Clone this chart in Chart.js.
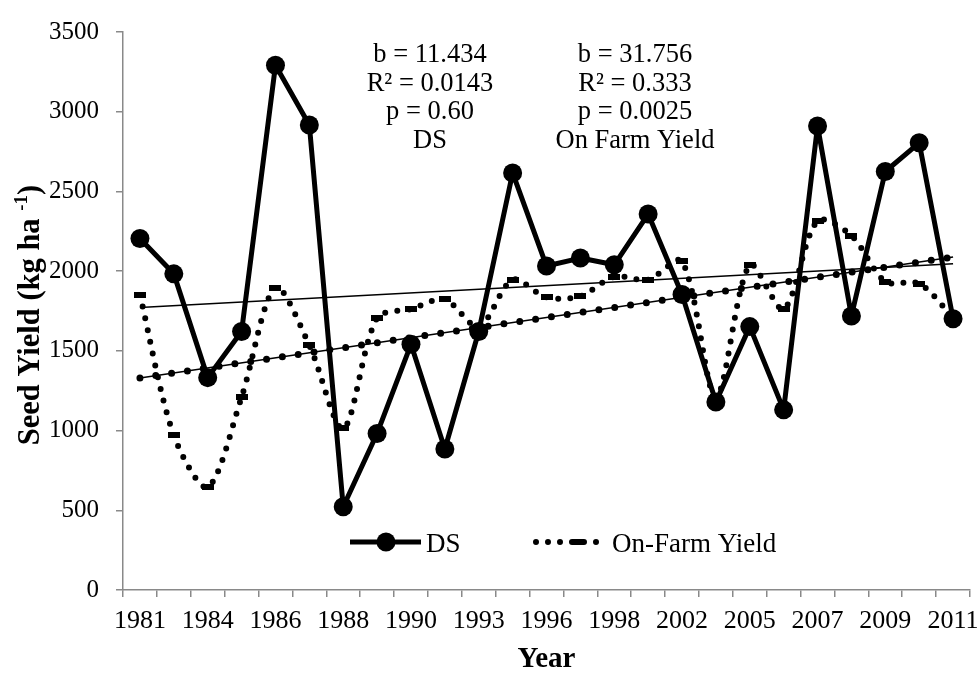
<!DOCTYPE html>
<html>
<head>
<meta charset="utf-8">
<script src="https://cdn.jsdelivr.net/npm/chart.js@4.4.0/dist/chart.umd.min.js"></script>
<style>
  html, body { margin: 0; padding: 0; background: #fff; }
  #wrap { width: 980px; height: 677px; }
</style>
</head>
<body>
<div id="wrap"><canvas id="chart"></canvas></div>
<script>
// Years on the axis (only every other year is labelled in the original)
const years = ['1981', '', '1984', '', '1986', '', '1988', '', '1990', '', '1993', '', '1996', '',
               '1998', '', '2002', '', '2005', '', '2007', '', '2009', '', '2011'];

// Seed yield, kg/ha
const dsYield = [2205, 1983, 1332, 1621, 3291, 2917, 522, 982, 1541, 884, 1621, 2616, 2032,
                 2082, 2040, 2358, 1854, 1179, 1652, 1130, 2910, 1719, 2625, 2805, 1701];
const onFarmYield = [1850, 970, 645, 1210, 1897, 1535, 1013, 1707, 1762, 1823, 1650, 1946, 1836,
                     1842, 1965, 1946, 2063, 1210, 2039, 1762, 2316, 2223, 1934, 1922, 1710];

// Linear trend values at first and last year
const dsTrendEnds = [1772, 2046];
const farmTrendEnds = [1330, 2088];

// Regression notes
const dsStats = ['b = 11.434', 'R\u00B2 = 0.0143', 'p = 0.60', 'DS'];
const farmStats = ['b = 31.756', 'R\u00B2 = 0.333', 'p = 0.0025', 'On Farm Yield'];

const FONT = "'Liberation Serif', 'Times New Roman', serif";
const AXIS_GREY = '#898989';

const endsOnly = e => years.map((_, i) => i === 0 ? e[0] : (i === years.length - 1 ? e[1] : null));

// little horizontal dash used as the on-farm marker
const dash = document.createElement('canvas');
dash.width = 12; dash.height = 6;
const dctx = dash.getContext('2d');
dctx.fillStyle = '#000';
dctx.fillRect(0, 0, 12, 6);

// Text drawn on top: regression notes, legend, y title
const extras = {
    id: 'extras',
    afterDraw(chart) {
        const ctx = chart.ctx;
        const area = chart.chartArea;
        ctx.save();
        ctx.fillStyle = '#000';
        ctx.textBaseline = 'alphabetic';

        // regression notes
        ctx.font = '26.5px ' + FONT;
        ctx.textAlign = 'center';
        [[dsStats, 430], [farmStats, 635]].forEach(([lines, cx]) => {
            lines.forEach((t, i) => ctx.fillText(t, cx, 62 + i * 28.7));
        });

        // legend
        const ly = area.bottom - 48;
        ctx.strokeStyle = '#000';
        ctx.lineWidth = 5;
        ctx.beginPath(); ctx.moveTo(350, ly); ctx.lineTo(421, ly); ctx.stroke();
        ctx.beginPath(); ctx.arc(386, ly, 9.5, 0, Math.PI * 2); ctx.fill();
        ctx.textAlign = 'left';
        ctx.font = '27px ' + FONT;
        ctx.fillText('DS', 426, ly + 10);

        ctx.lineWidth = 6;
        ctx.setLineDash([0, 12]);
        ctx.lineCap = 'round';
        ctx.beginPath(); ctx.moveTo(536, ly); ctx.lineTo(600, ly); ctx.stroke();
        ctx.setLineDash([]);
        ctx.drawImage(dash, 572, ly - 3);
        ctx.fillText('On-Farm Yield', 612, ly + 10);

        // y axis title with superscript
        ctx.translate(29, (area.top + area.bottom) / 2 + 4);
        ctx.rotate(-Math.PI / 2);
        const main = 'Seed Yield (kg ha ';
        ctx.font = 'bold 30.5px ' + FONT;
        const w1 = ctx.measureText(main).width;
        ctx.font = 'bold 19px ' + FONT;
        const w2 = ctx.measureText('-1').width;
        ctx.font = 'bold 30.5px ' + FONT;
        const w3 = ctx.measureText(')').width;
        let x = -(w1 + w2 + w3) / 2;
        ctx.textAlign = 'left';
        ctx.fillText(main, x, 10);
        x += w1;
        ctx.font = 'bold 19px ' + FONT;
        ctx.fillText('-1', x, -2);
        x += w2;
        ctx.font = 'bold 30.5px ' + FONT;
        ctx.fillText(')', x, 10);
        ctx.restore();
    }
};

new Chart(document.getElementById('chart'), {
    type: 'line',
    data: {
        labels: years,
        datasets: [{
            label: 'DS',
            data: dsYield,
            borderColor: '#000',
            backgroundColor: '#000',
            borderWidth: 5,
            borderJoinStyle: 'round',
            pointRadius: 9.5,
            pointBackgroundColor: '#000',
            pointBorderWidth: 0,
            tension: 0,
            order: 1
        }, {
            label: 'On-Farm Yield',
            data: onFarmYield,
            borderColor: '#000',
            borderWidth: 6,
            borderDash: [0, 12],
            borderCapStyle: 'round',
            pointStyle: dash,
            tension: 0.3,
            order: 2
        }, {
            label: 'DS trend',
            data: endsOnly(dsTrendEnds),
            borderColor: '#000',
            borderWidth: 1.5,
            pointRadius: 0,
            spanGaps: true,
            order: 3
        }, {
            label: 'On-farm trend',
            data: endsOnly(farmTrendEnds),
            borderColor: '#000',
            borderWidth: 1.5,
            pointRadius: 0,
            spanGaps: true,
            order: 4
        }, {
            label: 'On-farm trend dots',
            data: endsOnly(farmTrendEnds),
            borderColor: '#000',
            borderWidth: 7,
            borderDash: [0, 16],
            borderCapStyle: 'round',
            pointRadius: 0,
            spanGaps: true,
            order: 5
        }]
    },
    options: {
        responsive: true,
        maintainAspectRatio: false,
        animation: false,
        layout: { padding: { top: 20, right: 10, left: 0, bottom: 0 } },
        plugins: {
            legend: { display: false },
            tooltip: { enabled: false }
        },
        scales: {
            x: {
                offset: true,
                grid: { offset: true, drawOnChartArea: false, color: AXIS_GREY, lineWidth: 1.5, tickLength: 7 },
                border: { color: AXIS_GREY, width: 1.5 },
                ticks: { autoSkip: false, maxRotation: 0, color: '#000', font: { family: FONT, size: 26 }, padding: 9 },
                title: { display: true, text: 'Year', color: '#000', font: { family: FONT, size: 29, weight: 'bold' }, padding: { top: 0, bottom: 0 } },
                afterFit: s => { s.height = 87; s.paddingLeft = 0; s.paddingRight = 0; }
            },
            y: {
                min: 0,
                max: 3500,
                grid: { drawOnChartArea: false, color: AXIS_GREY, lineWidth: 1.5, tickLength: 7 },
                border: { color: AXIS_GREY, width: 1.5 },
                ticks: { stepSize: 500, color: '#000', font: { family: FONT, size: 25 }, padding: 17,
                         callback: v => String(v) },
                afterFit: s => { s.width = 123; }
            }
        }
    },
    plugins: [extras]
});
</script>
</body>
</html>
